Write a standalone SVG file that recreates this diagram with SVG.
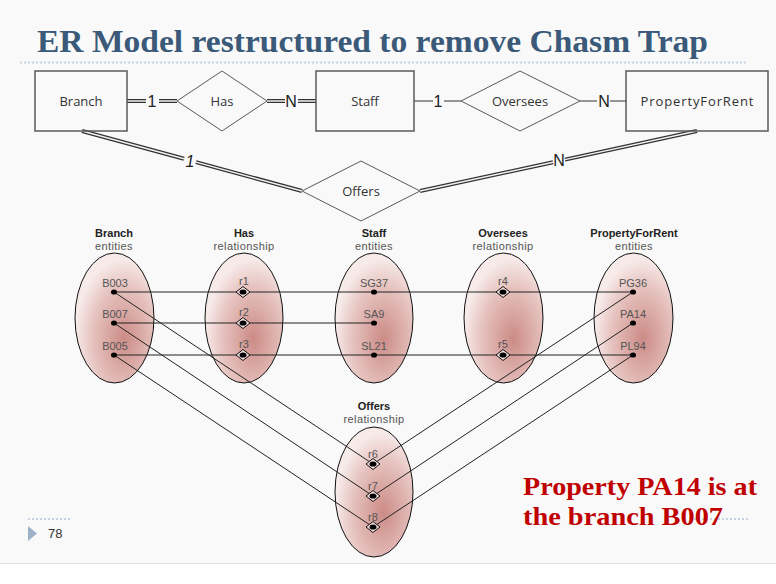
<svg xmlns="http://www.w3.org/2000/svg" xmlns:xlink="http://www.w3.org/1999/xlink" width="776" height="584" viewBox="0 0 776 584">
<defs>
<style>
.bg{fill:#f9f9f9}
.title{font-family:"Liberation Serif",serif;font-weight:bold;font-size:31px;fill:#3b5978}
.ent{fill:none;stroke:#5a5a5a;stroke-width:1.5}
.rel{fill:none;stroke:#5a5a5a;stroke-width:1}
.lbl{font-family:"Open Sans","Liberation Sans",sans-serif;font-size:13px;fill:#333;text-anchor:middle}
.card{font-family:"Liberation Sans",sans-serif;font-size:16px;fill:#222;text-anchor:middle}
.dbl1{stroke:#333;stroke-width:4;fill:none}
.dbl2{stroke:#f2f2f2;stroke-width:1.4;fill:none}
.sgl{stroke:#333;stroke-width:1;fill:none}
.oval{fill:url(#pink);stroke:#111;stroke-width:1}
.hd{font-family:"Liberation Sans",sans-serif;font-size:11px;font-weight:bold;fill:#222;text-anchor:middle}
.sub{font-family:"Liberation Sans",sans-serif;font-size:11px;fill:#555;text-anchor:middle;letter-spacing:0.4px}
.it{font-family:"Liberation Sans",sans-serif;font-size:11px;fill:#555;text-anchor:middle}
.ln{stroke:#222;stroke-width:1;fill:none}
.red{font-family:"Liberation Serif",serif;font-weight:bold;font-size:25px;fill:#c00000}
.dots{stroke:#c5d5e5;stroke-width:2;stroke-dasharray:2 2;fill:none}
</style>
<radialGradient id="pink" cx="0.62" cy="0.66" r="0.62">
<stop offset="0" stop-color="#cc8b86"/>
<stop offset="0.65" stop-color="#e6c3bf"/>
<stop offset="1" stop-color="#f7ebea"/>
</radialGradient>
<g id="rd">
<path d="M0,-5.5 L7,0 L0,5.5 L-7,0 Z" fill="#f2dede" stroke="#111" stroke-width="1"/>
<ellipse cx="0" cy="0" rx="3.5" ry="2.6" fill="#000"/>
</g>
<g id="dot"><ellipse cx="0" cy="0" rx="3" ry="2.6" fill="#000"/></g>
</defs>
<rect class="bg" x="0" y="0" width="776" height="563"/>
<line x1="0" y1="563.5" x2="776" y2="563.5" stroke="#e2e2e2" stroke-width="1"/>
<text class="title" x="37" y="52" textLength="671" lengthAdjust="spacingAndGlyphs">ER Model restructured to remove Chasm Trap</text>
<line class="dots" x1="20" y1="62.5" x2="747" y2="62.5"/>

<g id="connectors">
<path class="dbl1" d="M127,101 H146 M159,101 H177"/>
<path class="dbl2" d="M127,101 H146 M159,101 H177"/>
<text class="card" x="152" y="107">1</text>
<path class="dbl1" d="M267,101 H285 M298,101 H316"/>
<path class="dbl2" d="M267,101 H285 M298,101 H316"/>
<text class="card" x="291" y="107">N</text>
<path class="sgl" d="M414,101 H433 M444,101 H461"/>
<text class="card" x="438" y="107">1</text>
<path class="sgl" d="M580,101 H597 M610,101 H627"/>
<text class="card" x="604" y="107">N</text>
<path class="dbl1" d="M82,131 L184,158.8 M196,162.1 L302,191"/>
<path class="dbl2" d="M82,131 L184,158.8 M196,162.1 L302,191"/>
<text class="card" x="190" y="167" style="font-style:italic">1</text>
<path class="dbl1" d="M420,191 L553,162.2 M565,159.6 L697,131"/>
<path class="dbl2" d="M420,191 L553,162.2 M565,159.6 L697,131"/>
<text class="card" x="559" y="166">N</text>
</g>

<g id="Branch"><rect class="ent" x="35" y="71" width="92" height="60"/><text class="lbl" x="81" y="106">Branch</text></g>
<g id="Has"><path class="rel" d="M177,101 L222,71 L267,101 L222,131 Z"/><text class="lbl" x="222" y="106">Has</text></g>
<g id="Staff"><rect class="ent" x="316" y="71" width="98" height="60"/><text class="lbl" x="365" y="106">Staff</text></g>
<g id="Oversees"><path class="rel" d="M461,101 L520,71 L580,101 L520,131 Z"/><text class="lbl" x="520" y="106">Oversees</text></g>
<g id="PropertyForRent"><rect class="ent" x="626" y="71" width="142" height="60"/><text class="lbl" x="697" y="106" textLength="113" lengthAdjust="spacing">PropertyForRent</text></g>
<g id="Offers"><path class="rel" d="M302,191 L361,161 L420,191 L361,221 Z"/><text class="lbl" x="361" y="196">Offers</text></g>

<g id="set-Branch"><text class="hd" x="114" y="236.5">Branch</text><text class="sub" x="114" y="249.5">entities</text><ellipse class="oval" cx="114.5" cy="318" rx="39.5" ry="65"/></g>
<g id="set-Has"><text class="hd" x="244" y="236.5">Has</text><text class="sub" x="244" y="249.5">relationship</text><ellipse class="oval" cx="244" cy="318" rx="39" ry="65"/></g>
<g id="set-Staff"><text class="hd" x="374" y="236.5">Staff</text><text class="sub" x="374" y="249.5">entities</text><ellipse class="oval" cx="374" cy="318" rx="39" ry="65"/></g>
<g id="set-Oversees"><text class="hd" x="503" y="236.5">Oversees</text><text class="sub" x="503" y="249.5">relationship</text><ellipse class="oval" cx="503.5" cy="318" rx="39.5" ry="65"/></g>
<g id="set-PropertyForRent"><text class="hd" x="634" y="236.5">PropertyForRent</text><text class="sub" x="634" y="249.5">entities</text><ellipse class="oval" cx="633.5" cy="318" rx="39.5" ry="65"/></g>
<g id="set-Offers"><text class="hd" x="374" y="410">Offers</text><text class="sub" x="374" y="423">relationship</text><ellipse class="oval" cx="374" cy="492" rx="39" ry="65"/></g>

<g id="instance-lines">
<line class="ln" x1="114" y1="292" x2="633" y2="292"/>
<line class="ln" x1="114" y1="323" x2="374" y2="323"/>
<line class="ln" x1="114" y1="355" x2="633" y2="355"/>
<line class="ln" x1="114" y1="292" x2="373" y2="464"/>
<line class="ln" x1="114" y1="323" x2="373" y2="496"/>
<line class="ln" x1="114" y1="355" x2="373" y2="527"/>
<line class="ln" x1="633" y1="292" x2="373" y2="464"/>
<line class="ln" x1="633" y1="323" x2="373" y2="496"/>
<line class="ln" x1="633" y1="355" x2="373" y2="527"/>
</g>

<g id="instances">
<use xlink:href="#dot" x="114" y="292"/><text class="it" x="115" y="287">B003</text>
<use xlink:href="#dot" x="114" y="323"/><text class="it" x="115" y="318">B007</text>
<use xlink:href="#dot" x="114" y="355"/><text class="it" x="115" y="350">B005</text>
<use xlink:href="#rd" x="243" y="292"/><text class="it" x="244" y="285">r1</text>
<use xlink:href="#rd" x="243" y="323"/><text class="it" x="244" y="316">r2</text>
<use xlink:href="#rd" x="243" y="355"/><text class="it" x="244" y="348">r3</text>
<use xlink:href="#dot" x="374" y="292"/><text class="it" x="374" y="287">SG37</text>
<use xlink:href="#dot" x="374" y="323"/><text class="it" x="374" y="318">SA9</text>
<use xlink:href="#dot" x="374" y="355"/><text class="it" x="374" y="350">SL21</text>
<use xlink:href="#rd" x="503" y="292"/><text class="it" x="503" y="285">r4</text>
<use xlink:href="#rd" x="503" y="355"/><text class="it" x="503" y="348">r5</text>
<use xlink:href="#dot" x="633" y="292"/><text class="it" x="633" y="287">PG36</text>
<use xlink:href="#dot" x="633" y="323"/><text class="it" x="633" y="318">PA14</text>
<use xlink:href="#dot" x="633" y="355"/><text class="it" x="633" y="350">PL94</text>
<use xlink:href="#rd" x="373" y="464"/><text class="it" x="373" y="458">r6</text>
<use xlink:href="#rd" x="373" y="496"/><text class="it" x="373" y="490">r7</text>
<use xlink:href="#rd" x="373" y="527"/><text class="it" x="373" y="521">r8</text>
</g>

<line class="dots" x1="28" y1="519" x2="72" y2="519" stroke-width="1.2"/>
<path d="M28,526 L37,533.5 L28,541 Z" fill="#9cb2c8"/>
<text x="48" y="538" font-family="Liberation Sans,sans-serif" font-size="13" fill="#333">78</text>
<line class="dots" x1="690" y1="519" x2="748" y2="519" stroke-width="1.2"/>
<text class="red" x="523" y="495" textLength="234" lengthAdjust="spacingAndGlyphs">Property PA14 is at</text>
<text class="red" x="523" y="525" textLength="200" lengthAdjust="spacingAndGlyphs">the branch B007</text>
</svg>
